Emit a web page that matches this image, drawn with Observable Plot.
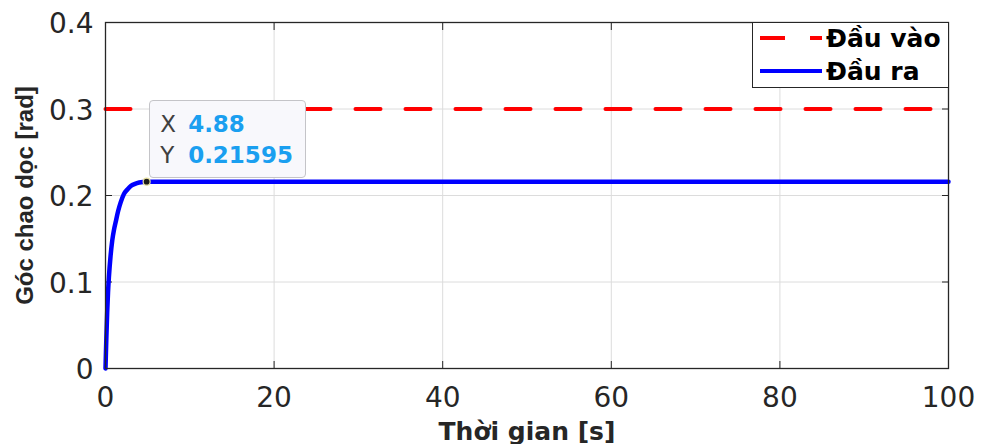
<!DOCTYPE html>
<html>
<head>
<meta charset="utf-8">
<script src="https://cdn.jsdelivr.net/npm/d3@7"></script>
<script src="https://cdn.jsdelivr.net/npm/@observablehq/plot@0.6"></script>
<style>
  html, body { margin: 0; padding: 0; background: #fff; }
  #wrap { position: relative; width: 982px; height: 444px; font-family: "DejaVu Sans", sans-serif; }
  #legend { position: absolute; background: #fff; border: 1.3px solid #262626; box-sizing: border-box; }
  .leg-row { position: absolute; display: flex; align-items: center; font-weight: bold; font-size: 25px; color: #000; white-space: nowrap; height: 30px; }
  #tip { position: absolute; background: #f8f8fc; border: 1.3px solid #c4c4c8; border-radius: 4px; box-sizing: border-box; font-size: 23px; }
  .tip-row { position: absolute; left: 10px; white-space: nowrap; line-height: normal; }
  .tip-k { color: #404040; display: inline-block; width: 28px; }
  .tip-v { color: #1a9ff0; font-weight: bold; }
</style>
</head>
<body>
<div id="wrap"></div>
<script>
// ---- data ----
const xTicks = [0, 20, 40, 60, 80, 100];
const yTicks = [0, 0.1, 0.2, 0.3, 0.4];
const inputT = [0, 100];
const inputY = [0.3, 0.3];
const outputT = [0, 0.05, 0.1, 0.2, 0.3, 0.4, 0.6, 0.8, 1.0, 1.2, 1.5, 1.8, 2.2, 2.6, 3.0, 3.5, 4.0, 4.88, 10, 20, 40, 60, 80, 100];
const outputY = [0, 0.018, 0.035, 0.065, 0.088, 0.105, 0.130, 0.148, 0.160, 0.169, 0.182, 0.192, 0.202, 0.207, 0.211, 0.2135, 0.2150, 0.21595, 0.216, 0.216, 0.216, 0.216, 0.216, 0.216];
const seriesNames = ["Đầu vào", "Đầu ra"];
const tipX = 4.88;
const tipY = 0.21595;
const xLabel = "Thời gian [s]";
const yLabel = "Góc chao dọc [rad]";

const inputData = inputT.map((t, i) => ({t, y: inputY[i]}));
const outputData = outputT.map((t, i) => ({t, y: outputY[i]}));

const axisColor = "#262626";
const chart = Plot.plot({
  width: 982,
  height: 444,
  marginLeft: 105,
  marginRight: 34,
  marginTop: 22,
  marginBottom: 76,
  style: {fontFamily: '"DejaVu Sans", sans-serif', background: "#fff", overflow: "visible"},
  x: {domain: [0, 100], label: null},
  y: {domain: [0, 0.4], label: null},
  marks: [
    Plot.gridX(xTicks, {stroke: "#dcdcdc", strokeOpacity: 1, strokeWidth: 1}),
    Plot.gridY(yTicks, {stroke: "#dcdcdc", strokeOpacity: 1, strokeWidth: 1}),
    Plot.axisX(xTicks, {anchor: "bottom", tickSize: 0, tickPadding: 19, fontSize: 28, fill: axisColor, label: null}),
    Plot.axisY(yTicks, {anchor: "left", tickSize: 0, tickPadding: 12, fontSize: 28, fill: axisColor, label: null, tickFormat: d => String(d), dy: 2}),
    Plot.axisX(xTicks, {anchor: "bottom", tickSize: -7, text: null, label: null, stroke: axisColor}),
    Plot.axisX(xTicks, {anchor: "top", tickSize: -7, text: null, label: null, stroke: axisColor}),
    Plot.axisY(yTicks, {anchor: "left", tickSize: -7, text: null, label: null, stroke: axisColor}),
    Plot.axisY(yTicks, {anchor: "right", tickSize: -7, text: null, label: null, stroke: axisColor}),
    Plot.line(inputData, {x: "t", y: "y", stroke: "#ff0000", strokeWidth: 4, strokeDasharray: "25,25"}),
    Plot.line(outputData, {x: "t", y: "y", stroke: "#0000ff", strokeWidth: 4.5, curve: "monotone-x"}),
    Plot.dot([{t: tipX, y: tipY}], {x: "t", y: "y", r: 3.5, fill: "#1a1a1a", stroke: "#e6dfa0", strokeWidth: 1.2}),
    Plot.frame({stroke: axisColor, strokeWidth: 1.3}),
    Plot.text([xLabel], {frameAnchor: "bottom", dy: 63, fontSize: 25, fontWeight: "bold", fill: axisColor, lineAnchor: "middle", textAnchor: "middle"}),
    Plot.text([yLabel], {frameAnchor: "left", dx: -80, rotate: -90, fontSize: 24, fontWeight: "bold", fill: axisColor, lineAnchor: "middle", textAnchor: "middle", fontFamily: '"Liberation Sans", Arial, sans-serif'})
  ]
});

const wrap = document.getElementById("wrap");
wrap.appendChild(chart);

const sx = chart.scale("x"), sy = chart.scale("y");
const plotLeft = sx.range[0], plotRight = sx.range[1];
const plotTop = sy.range[1];

// legend
const legend = document.createElement("div");
legend.id = "legend";
const legW = 197, legH = 66;
legend.style.left = (plotRight - legW + 1) + "px";
legend.style.top = plotTop + "px";
legend.style.width = legW + "px";
legend.style.height = legH + "px";
const swatches = [
  '<svg width="62" height="8"><line x1="0" y1="4" x2="62" y2="4" stroke="#ff0000" stroke-width="4" stroke-dasharray="25,25"/></svg>',
  '<svg width="62" height="8"><line x1="0" y1="4" x2="62" y2="4" stroke="#0000ff" stroke-width="4"/></svg>'
];
seriesNames.forEach((name, i) => {
  const row = document.createElement("div");
  row.className = "leg-row";
  row.style.left = "7px";
  row.style.top = (i === 0 ? 0 : 33) + "px";
  row.innerHTML = swatches[i] + '<span style="margin-left:4px">' + name + '</span>';
  legend.appendChild(row);
});
wrap.appendChild(legend);

// datatip
const px = sx.apply(tipX), py = sy.apply(tipY);
const tip = document.createElement("div");
tip.id = "tip";
tip.style.left = (px + 3) + "px";
tip.style.top = (py - 81) + "px";
tip.style.width = "157px";
tip.style.height = "78px";
tip.innerHTML =
  '<div class="tip-row" style="top:10px"><span class="tip-k">X</span><span class="tip-v">' + tipX + '</span></div>' +
  '<div class="tip-row" style="top:41px"><span class="tip-k">Y</span><span class="tip-v">' + tipY + '</span></div>';
wrap.appendChild(tip);
</script>
</body>
</html>
